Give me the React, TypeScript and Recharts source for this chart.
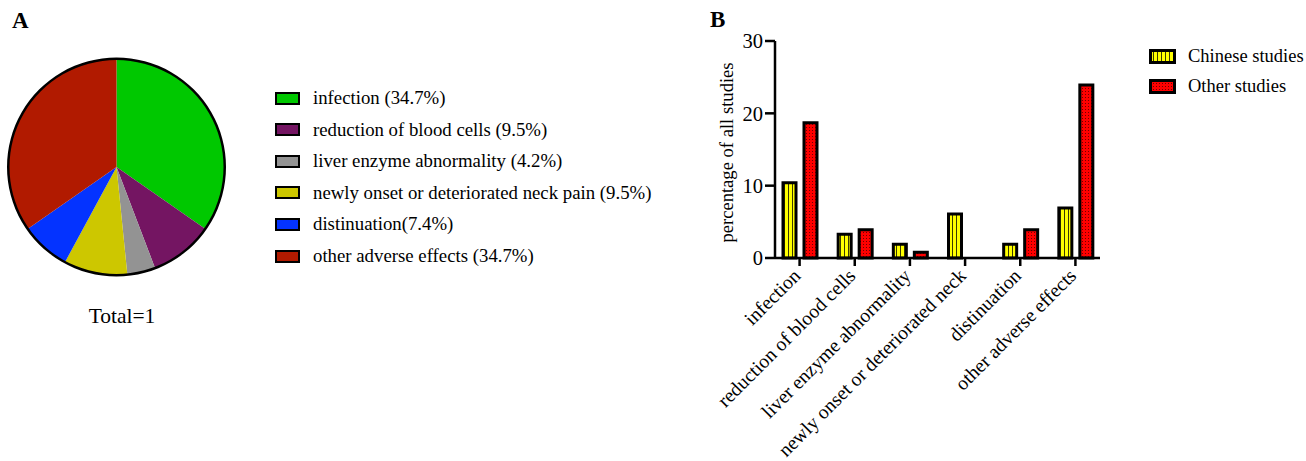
import { PieChart, Pie, Cell, BarChart, Bar, XAxis, YAxis } from "recharts";

const FONT = '"Liberation Serif", "Times New Roman", serif';

const pieLabels = [
  "infection (34.7%)",
  "reduction of blood cells (9.5%)",
  "liver enzyme abnormality (4.2%)",
  "newly onset or deteriorated neck pain (9.5%)",
  "distinuation(7.4%)",
  "other adverse effects (34.7%)",
];
const pieValues = [34.7, 9.5, 4.2, 9.5, 7.4, 34.7];
const pieColors = ["#00c800", "#741562", "#939393", "#cdc700", "#0433ff", "#b11a00"];

const categories = [
  "infection",
  "reduction of blood cells",
  "liver enzyme abnormality",
  "newly onset or deteriorated neck",
  "distinuation",
  "other adverse effects",
];
const chineseStudies = [10.4, 3.3, 1.9, 6.1, 1.9, 6.9];
const otherStudies = [18.7, 3.9, 0.8, 0, 3.9, 23.9];
const yTicks = [0, 10, 20, 30];
const seriesNames = ["Chinese studies", "Other studies"];

const pieData = pieLabels.map((name, i) => ({ name, value: pieValues[i] }));
const barData = categories.map((name, i) => ({ name, chinese: chineseStudies[i], other: otherStudies[i] }));

function Patterns({ suffix = "" }: { suffix?: string }) {
  return (
    <defs>
      <pattern id={"stripes" + suffix} width="4" height="4" patternUnits="userSpaceOnUse">
        <rect width="4" height="4" fill="#ffff00" />
        <rect x="0" width="1" height="4" fill="#3a3a00" />
      </pattern>
      <pattern id={"dots" + suffix} width="3" height="3" patternUnits="userSpaceOnUse">
        <rect width="3" height="3" fill="#ff0000" />
        <rect x="1" y="1" width="1" height="1" fill="#700000" />
      </pattern>
    </defs>
  );
}

function XTick(props: any) {
  const { x, y, payload } = props;
  const ax = x + 2;
  const ay = y + 9;
  return (
    <text
      x={ax}
      y={ay}
      textAnchor="end"
      fontSize={19.6}
      fontFamily={FONT}
      fill="#000"
      transform={`rotate(-45, ${ax}, ${ay})`}
    >
      {payload.value}
    </text>
  );
}

export default function App() {
  return (
    <div style={{ position: "absolute", left: 0, top: 0, width: 1306, height: 461, background: "#fff", fontFamily: FONT, color: "#000" }}>
      <div style={{ position: "absolute", left: 12, top: 8, fontSize: 23, fontWeight: "bold" }}>A</div>
      <PieChart width={240} height={290} margin={{ top: 0, right: 0, bottom: 0, left: 0 }} style={{ position: "absolute", left: 0, top: 0 }}>
        <Pie
          data={pieData}
          dataKey="value"
          cx={116.5}
          cy={167}
          outerRadius={108}
          startAngle={90}
          endAngle={-270}
          stroke="none"
          isAnimationActive={false}
        >
          {pieData.map((_, i) => (
            <Cell key={i} fill={pieColors[i]} />
          ))}
        </Pie>
        <Pie
          data={[{ value: 1 }]}
          dataKey="value"
          cx={116.5}
          cy={167}
          innerRadius={107}
          outerRadius={109.5}
          fill="#000"
          stroke="none"
          isAnimationActive={false}
        />
      </PieChart>
      <div style={{ position: "absolute", left: 0, width: 244, top: 304, textAlign: "center", fontSize: 21.5 }}>Total=1</div>

      {pieLabels.map((label, i) => (
        <div key={label} style={{ position: "absolute", left: 275, top: 82 + i * 31.6, height: 32, display: "flex", alignItems: "center" }}>
          <div style={{ width: 25, height: 13, boxSizing: "border-box", border: "2px solid #000", background: pieColors[i] }} />
          <span style={{ marginLeft: 13, fontSize: 18.8, whiteSpace: "nowrap" }}>{label}</span>
        </div>
      ))}

      <div style={{ position: "absolute", left: 710, top: 7, fontSize: 23, fontWeight: "bold" }}>B</div>
      <BarChart
        width={606}
        height={461}
        data={barData}
        margin={{ top: 41, right: 206, bottom: 3, left: 0 }}
        barSize={13}
        barGap={8}
        style={{ position: "absolute", left: 700, top: 0 }}
      >
        <Patterns />
        <XAxis
          dataKey="name"
          interval={0}
          height={200}
          tickSize={8}
          padding={{ left: -3, right: -3 }}
          axisLine={{ stroke: "#000", strokeWidth: 2.5 }}
          tickLine={{ stroke: "#000", strokeWidth: 2.5 }}
          tick={<XTick />}
        />
        <YAxis
          width={75}
          domain={[0, 30]}
          ticks={yTicks}
          tickSize={10}
          tickMargin={2}
          axisLine={{ stroke: "#000", strokeWidth: 2.5 }}
          tickLine={{ stroke: "#000", strokeWidth: 2.5 }}
          tick={{ fontSize: 20.5, fontFamily: FONT, fill: "#000" }}
          label={{
            value: "percentage of all studies",
            angle: -90,
            position: "insideLeft",
            offset: 26,
            dy: 3,
            style: { textAnchor: "middle", fontSize: 18.6, fontFamily: FONT, fill: "#000" },
          }}
        />
        <Bar dataKey="chinese" name={seriesNames[0]} fill="url(#stripes)" stroke="#000" strokeWidth={3} isAnimationActive={false} />
        <Bar dataKey="other" name={seriesNames[1]} fill="url(#dots)" stroke="#000" strokeWidth={3} isAnimationActive={false} />
      </BarChart>

      {seriesNames.map((name, i) => (
        <div key={name} style={{ position: "absolute", left: 1149, top: 41 + i * 30, height: 30, display: "flex", alignItems: "center" }}>
          <svg width={27} height={15}>
            <Patterns suffix="L" />
            <rect x={1.5} y={1.5} width={24} height={12} fill={i === 0 ? "url(#stripesL)" : "url(#dotsL)"} stroke="#000" strokeWidth={3} />
          </svg>
          <span style={{ marginLeft: 12, fontSize: 18.5, whiteSpace: "nowrap" }}>{name}</span>
        </div>
      ))}
    </div>
  );
}
